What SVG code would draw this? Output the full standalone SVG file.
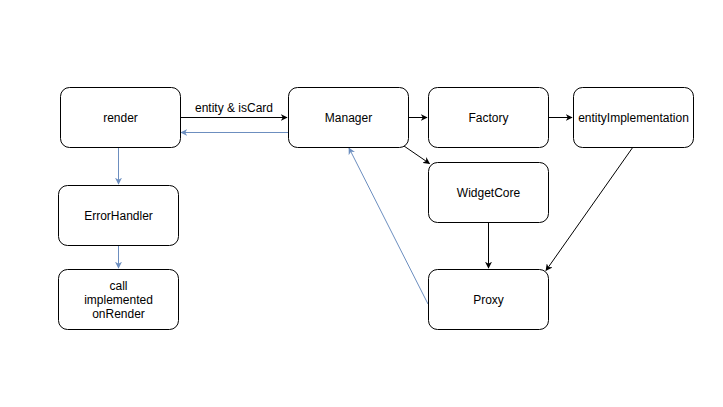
<svg xmlns="http://www.w3.org/2000/svg" width="723" height="407" viewBox="0 0 723 407">
<style>
.n rect{fill:#fff;stroke:#000;stroke-width:1}
text{font-family:"Liberation Sans",Arial,sans-serif;font-size:12px;fill:#000;text-anchor:middle}
.k{stroke:#000;fill:none;stroke-width:1}
.b{stroke:#6c8ebf;fill:none;stroke-width:1}
</style>
<defs>
<marker id="ak" viewBox="0 0 10 10" refX="9" refY="5" markerWidth="7" markerHeight="7" orient="auto" markerUnits="userSpaceOnUse"><path d="M0,0 L10,5 L0,10 L3,5 Z" fill="#000"/></marker>
<marker id="ab" viewBox="0 0 10 10" refX="9" refY="5" markerWidth="7" markerHeight="7" orient="auto" markerUnits="userSpaceOnUse"><path d="M0,0 L10,5 L0,10 L3,5 Z" fill="#6c8ebf"/></marker>
</defs>
<rect width="723" height="407" fill="#fff"/>
<g id="connectors">
<path class="k" d="M180.5,117.5 L287,117.5" marker-end="url(#ak)"/>
<text x="234" y="112">entity &amp; isCard</text>
<path class="b" d="M288,132.5 L181,132.5" marker-end="url(#ab)"/>
<path class="b" d="M118.5,147 L118.5,184" marker-end="url(#ab)"/>
<path class="b" d="M118.5,245 L118.5,268" marker-end="url(#ab)"/>
<path class="k" d="M408,117.5 L427,117.5" marker-end="url(#ak)"/>
<path class="k" d="M548,117.5 L572,117.5" marker-end="url(#ak)"/>
<path class="k" d="M404,146 L429.5,163.5" marker-end="url(#ak)"/>
<path class="k" d="M488.5,222 L488.5,268" marker-end="url(#ak)"/>
<path class="k" d="M633,147 L546,270.5" marker-end="url(#ak)"/>
<path class="b" d="M428,304 L349,148" marker-end="url(#ab)"/>
</g>
<g id="render" class="n"><rect x="60.5" y="87.5" width="120" height="60" rx="9"/><text x="120.5" y="122">render</text></g>
<g id="manager" class="n"><rect x="288.5" y="87.5" width="120" height="60" rx="9"/><text x="348.5" y="122">Manager</text></g>
<g id="factory" class="n"><rect x="428.5" y="87.5" width="120" height="60" rx="9"/><text x="488.5" y="122">Factory</text></g>
<g id="entityImplementation" class="n"><rect x="573.5" y="87.5" width="120" height="60" rx="9"/><text x="633.5" y="122">entityImplementation</text></g>
<g id="widgetcore" class="n"><rect x="428.5" y="162.5" width="120" height="60" rx="9"/><text x="488.5" y="197">WidgetCore</text></g>
<g id="proxy" class="n"><rect x="428.5" y="269.5" width="120" height="60" rx="9"/><text x="488.5" y="304">Proxy</text></g>
<g id="errorhandler" class="n"><rect x="58.5" y="185.5" width="120" height="60" rx="9"/><text x="118.5" y="220">ErrorHandler</text></g>
<g id="call" class="n"><rect x="58.5" y="269.5" width="120" height="60" rx="9"/><text x="118.5" y="290">call</text><text x="118.5" y="304">implemented</text><text x="118.5" y="318">onRender</text></g>
</svg>
